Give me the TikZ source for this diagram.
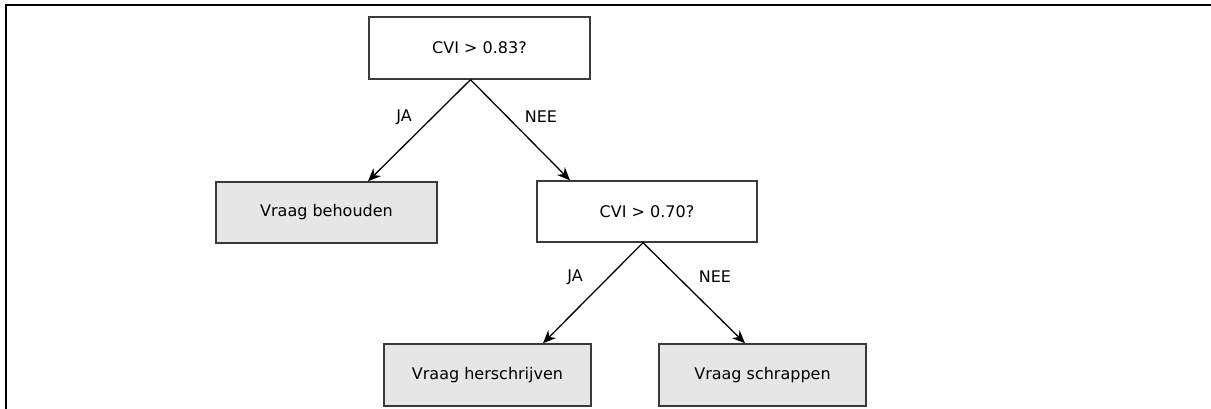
\documentclass[tikz,border=0pt]{standalone}
\usepackage{fontspec}
\setmainfont{DejaVu Sans}
\usetikzlibrary{arrows.meta,calc}
\definecolor{boxgray}{HTML}{E6E6E6}
\definecolor{edgegray}{HTML}{3A3A3A}
\begin{document}
\begin{tikzpicture}[x=1pt,y=-1pt,
  decision/.style={draw=edgegray,line width=1.4pt,fill=white,rectangle,minimum width=221pt,minimum height=62pt,inner sep=0pt,font=\fontsize{16}{19}\selectfont},
  outcome/.style={decision,fill=boxgray},
  conn/.style={line width=1.3pt,-{Stealth[length=13pt,width=11pt]}},
  lbl/.style={font=\fontsize{16}{19}\selectfont,inner sep=0pt}]
\useasboundingbox (0,0) rectangle (1211,409);
\coordinate (fb) at (6,409);
\coordinate (fc) at (6,5.5);
\coordinate (fr) at (1211,5.5);
\draw[line width=2pt] (fb) -- (fc) -- (fr);
\node[decision] (q1) at (479.5,48) {CVI > 0.83?};
\node[outcome,minimum height=61pt] (keep) at (326.5,212.5) {Vraag behouden};
\node[decision,minimum width=220pt,minimum height=61pt] (q2) at (647,211.5) {CVI > 0.70?};
\node[outcome,minimum width=207pt] (rewrite) at (487.5,375) {Vraag herschrijven};
\node[outcome,minimum width=207pt] (drop) at (762.5,375) {Vraag schrappen};
\draw[conn] ($(q1.south)+(-9,0)$) -- ($(keep.north)+(41.5,0)$);
\draw[conn] ($(q1.south)+(-9,0)$) -- ($(q2.north)+(-77,0)$);
\draw[conn] ($(q2.south)+(-4,0)$) -- ($(rewrite.north)+(55.5,0)$);
\draw[conn] ($(q2.south)+(-4,0)$) -- ($(drop.north)+(-17.5,0)$);
\node[lbl] (l1) at (404,117) {JA};
\node[lbl] (l2) at (541,117) {NEE};
\node[lbl] (l3) at (575,277) {JA};
\node[lbl] (l4) at (715,277) {NEE};
\end{tikzpicture}
\end{document}
